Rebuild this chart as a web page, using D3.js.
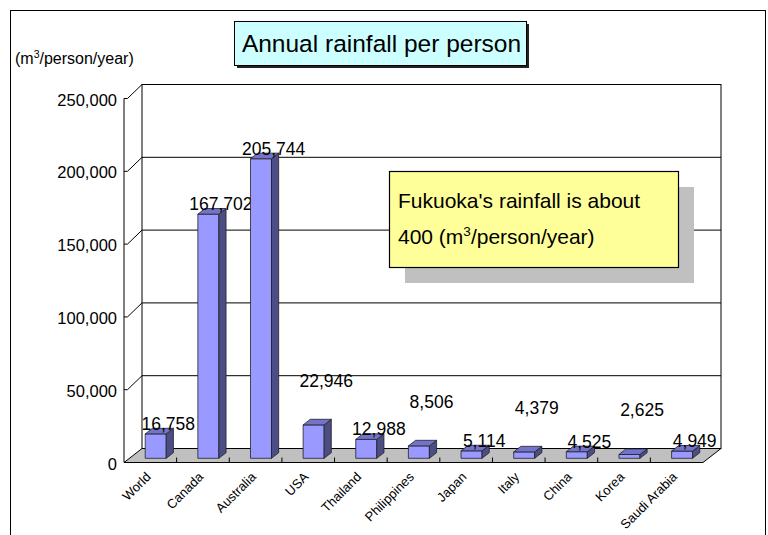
<!DOCTYPE html>
<html>
<head>
<meta charset="utf-8">
<script src="https://cdn.jsdelivr.net/npm/d3@7"></script>
<style>
  body { margin: 0; background: #fff; }
  svg { display: block; font-family: "Liberation Sans", Arial, sans-serif; }
</style>
</head>
<body>
<svg id="chart" width="768" height="535"></svg>
<script>
// chart data
var categories = ["World", "Canada", "Australia", "USA", "Thailand", "Philippines",
  "Japan", "Italy", "China", "Korea", "Saudi Arabia"];
var rainfall = [16758, 167702, 205744, 22946, 12988, 8506, 5114, 4379, 4525, 2625, 4949];
var yTicks = [0, 50000, 100000, 150000, 200000, 250000];
// labels that Excel pushed up above the others
var raisedLabels = ["USA", "Philippines", "Italy", "Korea"];

var titleText = "Annual rainfall per person";
var noteLines = ["Fukuoka's rainfall is about", "400 (m"];

// 3d box layout
var PLOT = {
  left: 124,
  right: 703,
  floorY: 462.5,
  height: 364,
  depthX: 18,
  depthY: 14,
  barFront: 0.3,
  barBack: 0.7,
  barWidth: 21
};

var svg = d3.select("#chart");

// outer frame
svg.append("rect")
  .attr("x", 10.5).attr("y", 10.5)
  .attr("width", 755).attr("height", 600)
  .attr("fill", "#fff")
  .attr("stroke", "#000");

var x = d3.scaleBand()
  .domain(categories)
  .range([PLOT.left, PLOT.right]);

var h = d3.scaleLinear()
  .domain([0, 250000])
  .range([0, PLOT.height]);

// y for the front axis
var yFront = d3.scaleLinear()
  .domain([0, 250000])
  .range([PLOT.floorY, PLOT.floorY - PLOT.height]);

// project a point (x on front line, value, depth fraction)
function proj(px, v, f) {
  return [px + f * PLOT.depthX, PLOT.floorY - f * PLOT.depthY - h(v)];
}

function poly(pts) {
  return pts.map(function(p) { return p[0] + "," + p[1]; }).join(" ");
}

var chart = svg.append("g");

// back wall
var wallTop = proj(PLOT.left, 250000, 1);
var wallBottomRight = proj(PLOT.right, 0, 1);
chart.append("rect")
  .attr("x", wallTop[0]).attr("y", wallTop[1])
  .attr("width", wallBottomRight[0] - wallTop[0])
  .attr("height", wallBottomRight[1] - wallTop[1])
  .attr("fill", "#fff")
  .attr("stroke", "#000");

// gridlines on back wall and diagonal ticks on side wall
yTicks.forEach(function(t) {
  var a = proj(PLOT.left, t, 1);
  var b = proj(PLOT.right, t, 1);
  if (t > 0 && t < 250000) {
    chart.append("line")
      .attr("x1", a[0]).attr("y1", a[1])
      .attr("x2", b[0]).attr("y2", b[1])
      .attr("stroke", "#000");
  }
  if (t > 0) {
    var f0 = proj(PLOT.left, t, 0);
    chart.append("polyline")
      .attr("points", poly([f0, [f0[0] + 3.5, f0[1]], a]))
      .attr("fill", "none")
      .attr("stroke", "#000");
  }
});

// floor
chart.append("polygon")
  .attr("points", poly([
    proj(PLOT.left, 0, 0), proj(PLOT.right, 0, 0),
    proj(PLOT.right, 0, 1), proj(PLOT.left, 0, 1)
  ]))
  .attr("fill", "#c0c0c0")
  .attr("stroke", "#000");

// front left axis line
chart.append("line")
  .attr("x1", PLOT.left).attr("y1", yFront(0))
  .attr("x2", PLOT.left).attr("y2", yFront(250000))
  .attr("stroke", "#000");

// category ticks on the floor edge
categories.slice(1).forEach(function(c) {
  chart.append("line")
    .attr("x1", x(c)).attr("x2", x(c))
    .attr("y1", PLOT.floorY).attr("y2", PLOT.floorY - 5)
    .attr("stroke", "#000");
});

// bars
var bars = chart.selectAll(".bar")
  .data(categories.map(function(c, i) { return { name: c, value: rainfall[i] }; }))
  .enter()
  .append("g")
  .attr("class", "bar");

function barX0(d) { return x(d.name) + x.bandwidth() / 2 - PLOT.barWidth / 2; }
function barX1(d) { return barX0(d) + PLOT.barWidth; }

bars.append("polygon")
  .attr("points", function(d) {
    return poly([proj(barX0(d), 0, PLOT.barFront), proj(barX1(d), 0, PLOT.barFront),
      proj(barX1(d), d.value, PLOT.barFront), proj(barX0(d), d.value, PLOT.barFront)]);
  })
  .attr("fill", "#9999ff")
  .attr("stroke", "#222")
  .attr("stroke-width", 0.8);

bars.append("polygon")
  .attr("points", function(d) {
    return poly([proj(barX1(d), 0, PLOT.barFront), proj(barX1(d), 0, PLOT.barBack),
      proj(barX1(d), d.value, PLOT.barBack), proj(barX1(d), d.value, PLOT.barFront)]);
  })
  .attr("fill", "#4d4d85")
  .attr("stroke", "#222")
  .attr("stroke-width", 0.8);

bars.append("polygon")
  .attr("points", function(d) {
    return poly([proj(barX0(d), d.value, PLOT.barFront), proj(barX1(d), d.value, PLOT.barFront),
      proj(barX1(d), d.value, PLOT.barBack), proj(barX0(d), d.value, PLOT.barBack)]);
  })
  .attr("fill", "#7373cc")
  .attr("stroke", "#222")
  .attr("stroke-width", 0.8);

// data labels
bars.append("text")
  .attr("x", function(d) { return x(d.name) + x.bandwidth() / 2 + 18; })
  .attr("y", function(d) {
    var top = proj(0, d.value, PLOT.barFront)[1];
    return top - (raisedLabels.indexOf(d.name) >= 0 ? 38 : 4);
  })
  .attr("text-anchor", "middle")
  .style("font-size", "17.5px")
  .attr("fill", "#000")
  .text(function(d) { return d3.format(",")(d.value); });

// y axis labels
var yAxis = chart.append("g")
  .attr("transform", "translate(" + PLOT.left + ",0)")
  .call(d3.axisLeft(yFront).tickValues(yTicks).tickSize(0).tickPadding(7).tickFormat(d3.format(",")));
yAxis.select(".domain").remove();
yAxis.selectAll("text")
  .attr("dy", "0.4em")
  .style("font-size", "16.5px")
  .style("font-family", "'Liberation Sans', Arial, sans-serif")
  .attr("fill", "#000");

// category labels
var xAxis = chart.append("g")
  .attr("transform", "translate(0," + PLOT.floorY + ")")
  .call(d3.axisBottom(x).tickSize(0));
xAxis.select(".domain").remove();
xAxis.selectAll("text")
  .attr("x", 0).attr("y", 0)
  .attr("dy", "0.35em")
  .attr("transform", "translate(-2,12) rotate(-45)")
  .attr("text-anchor", "end")
  .style("font-size", "13px")
  .style("font-family", "'Liberation Sans', Arial, sans-serif")
  .attr("fill", "#000");

// unit label
var unit = svg.append("text")
  .attr("x", 15).attr("y", 64)
  .style("font-size", "16px");
unit.append("tspan").text("(m");
unit.append("tspan").attr("dy", -6).style("font-size", "10.5px").text("3");
unit.append("tspan").attr("dy", 6).text("/person/year)");

// title box
svg.append("rect")
  .attr("x", 237).attr("y", 24).attr("width", 292).attr("height", 44)
  .attr("fill", "#222");
svg.append("rect")
  .attr("x", 234.5).attr("y", 21.5).attr("width", 292).attr("height", 44)
  .attr("fill", "#ccffff")
  .attr("stroke", "#000");
svg.append("text")
  .attr("x", 381.5).attr("y", 51.5)
  .attr("text-anchor", "middle")
  .style("font-size", "24.5px")
  .text(titleText);

// note box
svg.append("rect")
  .attr("x", 405).attr("y", 187).attr("width", 289).attr("height", 96)
  .attr("fill", "#c0c0c0");
svg.append("rect")
  .attr("x", 389.5).attr("y", 171.5).attr("width", 289).attr("height", 96)
  .attr("fill", "#ffff99")
  .attr("stroke", "#000")
  .attr("stroke-width", 1.2);
svg.append("text")
  .attr("x", 398).attr("y", 208)
  .style("font-size", "21px")
  .text(noteLines[0]);
var note2 = svg.append("text")
  .attr("x", 398).attr("y", 243.5)
  .style("font-size", "21px");
note2.append("tspan").text(noteLines[1]);
note2.append("tspan").attr("dy", -8).style("font-size", "13.5px").text("3");
note2.append("tspan").attr("dy", 8).text("/person/year)");
</script>
</body>
</html>
